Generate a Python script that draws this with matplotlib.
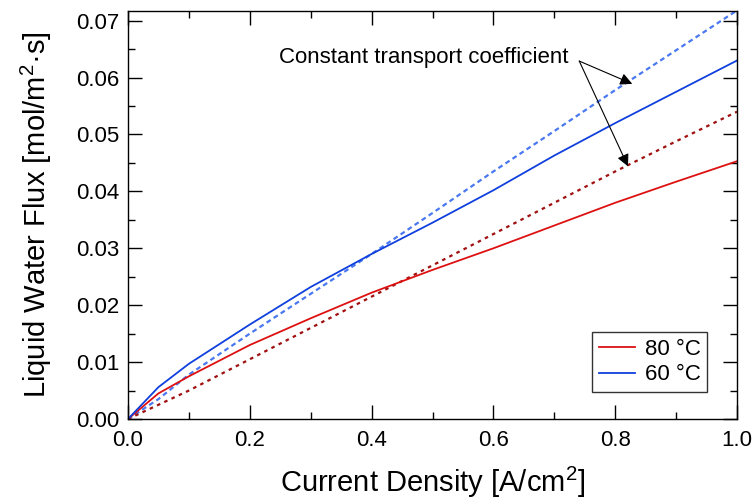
import numpy as np
import matplotlib.pyplot as plt
from matplotlib.ticker import MultipleLocator, FormatStrFormatter

plt.rcParams['font.family'] = ['Liberation Sans', 'DejaVu Sans']
plt.rcParams['mathtext.fontset'] = 'custom'
plt.rcParams['mathtext.rm'] = 'Liberation Sans'
plt.rcParams['mathtext.it'] = 'Liberation Sans'

# current density [A/cm2]
j = [0.0, 0.05, 0.1, 0.2, 0.3, 0.4, 0.5, 0.6, 0.7, 0.8, 0.9, 1.0]

# water flux, variable transport coefficient
flux_80 = [0.0, 0.0045, 0.0075, 0.0130, 0.0177, 0.0222, 0.0262, 0.0300, 0.0340, 0.0380, 0.0417, 0.0453]
flux_60 = [0.0, 0.0056, 0.0097, 0.0166, 0.0232, 0.0290, 0.0345, 0.0402, 0.0463, 0.0520, 0.0575, 0.0630]

# water flux, constant transport coefficient
const_80 = [0.0, 0.0025, 0.0050, 0.0105, 0.0160, 0.0215, 0.0270, 0.0325, 0.0380, 0.0435, 0.0488, 0.0540]
const_60 = [0.0, 0.0035, 0.0078, 0.0150, 0.0220, 0.0290, 0.0362, 0.0435, 0.0506, 0.0578, 0.0648, 0.0718]

fig = plt.figure(figsize=(7.52, 5.01), dpi=100)
ax = fig.add_axes([128/752, 1 - 419/501, 609/752, 408/501])

ax.plot(j, const_60, color='#4a78f0', lw=1.6, ls=(0, (2.2, 1.6)))
ax.plot(j, const_80, color='#a01010', lw=1.6, ls=(0, (1.6, 2.0)))
l80, = ax.plot(j, flux_80, color='#dd1111', lw=1.3, label='80 °C')
l60, = ax.plot(j, flux_60, color='#1040dd', lw=1.3, label='60 °C')

ax.set_xlim(0, 1.0)
ax.set_ylim(0, 0.0717)
ax.xaxis.set_major_locator(MultipleLocator(0.2))
ax.xaxis.set_minor_locator(MultipleLocator(0.1))
ax.yaxis.set_major_locator(MultipleLocator(0.01))
ax.yaxis.set_minor_locator(MultipleLocator(0.005))
ax.xaxis.set_major_formatter(FormatStrFormatter('%.1f'))
ax.yaxis.set_major_formatter(FormatStrFormatter('%.2f'))
ax.tick_params(which='both', direction='in', top=True, right=True, labelsize=16, width=1)
ax.tick_params(which='major', length=10)
ax.tick_params(which='minor', length=5)
ax.tick_params(axis='x', pad=8)
ax.tick_params(axis='y', pad=6)
for s in ax.spines.values():
    s.set_linewidth(1)

ax.set_xlabel('Current Density [A/cm$^{2}$]', fontsize=21, labelpad=10)
ax.set_ylabel('Liquid Water Flux [mol/m$^{2}$·s]', fontsize=21, labelpad=16)

# label and arrows pointing to the constant-coefficient curves
ax.text(0.724, 0.0635, 'Constant transport coefficient', fontsize=16, ha='right', va='center')
tail = (0.741, 0.0629)
for tip in [(0.828, 0.0589), (0.821, 0.0444)]:
    ax.annotate('', xy=tip, xytext=tail,
                arrowprops=dict(arrowstyle='-|>', color='black', lw=0.8, mutation_scale=18,
                                shrinkA=0, shrinkB=0))

leg = ax.legend(handles=[l80, l60], loc='lower right', bbox_to_anchor=(0.951, 0.066),
                borderaxespad=0, fontsize=16, frameon=True, fancybox=False, edgecolor='black',
                handlelength=1.6, handletextpad=0.45, borderpad=0.3, labelspacing=0.2)
leg.get_frame().set_linewidth(1)

fig.savefig('out.png', dpi=100)
